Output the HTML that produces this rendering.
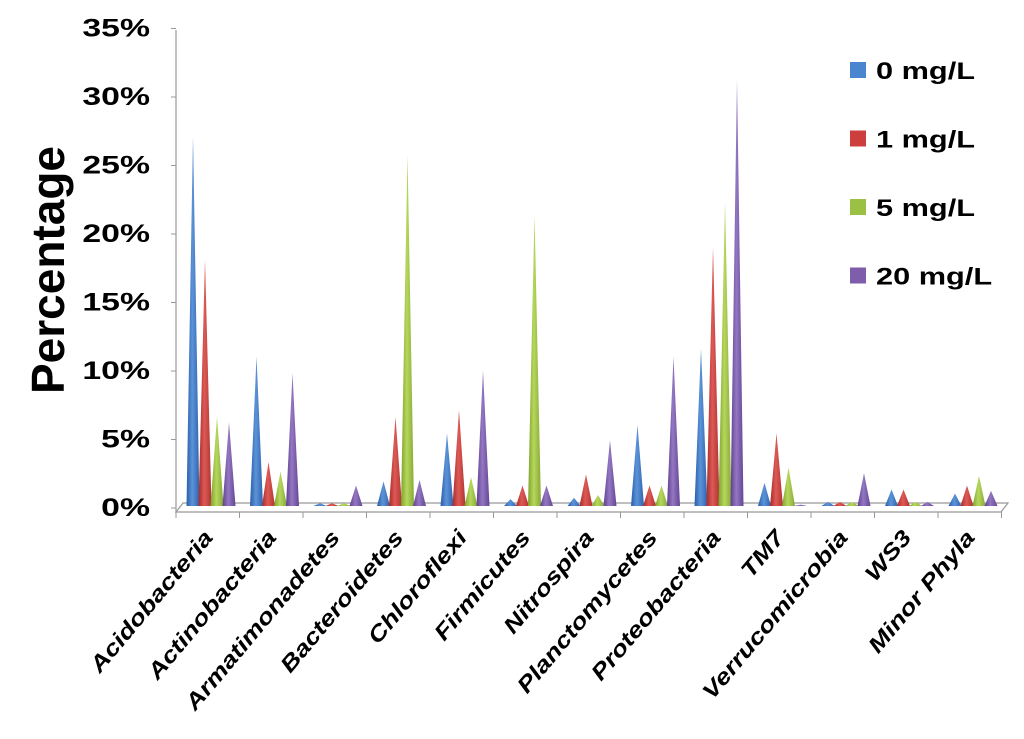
<!DOCTYPE html>
<html><head><meta charset="utf-8"><style>
body{margin:0;background:#fff}
svg{display:block;font-family:"Liberation Sans",Arial,sans-serif}
</style></head><body>
<svg id="chart" width="1024" height="739" viewBox="0 0 1024 739">
<defs>
<linearGradient id="g0" x1="0" x2="1"><stop offset="0" stop-color="#2a5ea8"/><stop offset="0.45" stop-color="#5b93d8"/><stop offset="1" stop-color="#2f63ad"/></linearGradient>
<linearGradient id="g1" x1="0" x2="1"><stop offset="0" stop-color="#a82a2a"/><stop offset="0.45" stop-color="#dd5a55"/><stop offset="1" stop-color="#b03330"/></linearGradient>
<linearGradient id="g2" x1="0" x2="1"><stop offset="0" stop-color="#7fa22e"/><stop offset="0.45" stop-color="#b6d75c"/><stop offset="1" stop-color="#86a836"/></linearGradient>
<linearGradient id="g3" x1="0" x2="1"><stop offset="0" stop-color="#5e3f8e"/><stop offset="0.45" stop-color="#9477c2"/><stop offset="1" stop-color="#634594"/></linearGradient>
</defs>
<g id="axes"></g><g id="marks"></g><g id="labels"></g>
</svg>
<script>
const categories=["Acidobacteria","Actinobacteria","Armatimonadetes","Bacteroidetes","Chloroflexi","Firmicutes","Nitrospira","Planctomycetes","Proteobacteria","TM7","Verrucomicrobia","WS3","Minor Phyla"];
const seriesNames=["0 mg/L","1 mg/L","5 mg/L","20 mg/L"];
const s0=[27,10.9,0.2,1.8,5.3,0.5,0.6,5.9,11.5,1.7,0.3,1.2,0.9];
const s1=[18,3.2,0.2,6.5,7,1.5,2.3,1.5,18.9,5.3,0.3,1.2,1.5];
const s2=[6.5,2.5,0.2,25.6,2.1,21.2,0.8,1.5,22.2,2.8,0.3,0.3,2.2];
const s3=[6.1,9.7,1.5,1.9,9.9,1.5,4.8,10.9,31.1,0.1,2.4,0.3,1.1];
const yTicks=[0,5,10,15,20,25,30,35];
const NS="http://www.w3.org/2000/svg";
function mk(t,a,p){const e=document.createElementNS(NS,t);for(const k in a)e.setAttribute(k,a[k]);p.appendChild(e);return e;}
function stretch(e,f){const w=e.getComputedTextLength();e.setAttribute('textLength',(w*f).toFixed(1));e.setAttribute('lengthAdjust','spacingAndGlyphs');}
const y0=506,pxPer=13.7;
const y=v=>y0-v*pxPer;
const catStart=i=>176+63.5*i;
const axes=document.getElementById('axes'),marks=document.getElementById('marks'),labels=document.getElementById('labels');
let ya=mk('line',{x1:176,y1:30,x2:176,y2:512,stroke:'#999','stroke-width':1.2},axes);

let fl=mk('polygon',{points:'176,512 183,503 1008,503 1001,512',fill:'none',stroke:'#999','stroke-width':1.2},axes);

yTicks.forEach(t=>{
  mk('line',{x1:171,x2:176,y1:y(t)+2,y2:y(t)+2,stroke:'#999'},axes);
  const tx=mk('text',{x:150,y:y(t)+10,'text-anchor':'end','font-size':25,'font-weight':'bold'},labels);
  tx.textContent=t+'%';
  
  stretch(tx,1.35);
});
for(let i=0;i<=categories.length;i++){mk('line',{x1:catStart(i),x2:catStart(i),y1:512,y2:518,stroke:'#999'},axes);}
const series=[s0,s1,s2,s3];
categories.forEach((c,i)=>{
  series.forEach((s,j)=>{
    const cx=catStart(i)+17+12*j;
    const p=mk('polygon',{points:`${cx-6.5},${y0} ${cx},${y(s[i])} ${cx+6.5},${y0}`,fill:`url(#g${j})`},marks);
    
    
  });
  const cxl=catStart(i)+38;
  const t=mk('text',{x:cxl,y:538,'text-anchor':'end','font-size':22,'font-weight':'bold','font-style':'italic',transform:`rotate(-50 ${cxl} 538)`},labels);
  t.textContent=c;
  
  
  stretch(t,1.22);
});
const yt=mk('text',{x:0,y:0,'text-anchor':'middle','font-size':46,'font-weight':'bold',transform:'translate(64 270) rotate(-90)'},labels);
yt.textContent='Percentage';

const lc=['#4a86cf','#cc3f3c','#9bc144','#7e5eab'];
seriesNames.forEach((n,j)=>{
  const ly=70+68.5*j;
  const r=mk('rect',{x:850,y:ly-8,width:16,height:16,fill:lc[j]},labels);
  
  const t=mk('text',{x:876,y:ly+9,'font-size':24,'font-weight':'bold'},labels);
  t.textContent=n;
  
  stretch(t,1.28);
});
</script>
</body></html>
